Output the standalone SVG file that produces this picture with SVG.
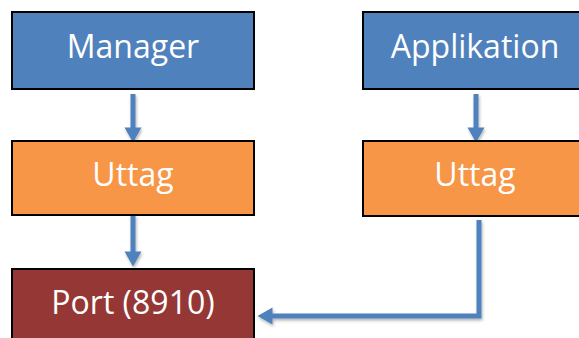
<svg xmlns="http://www.w3.org/2000/svg" width="579" height="338" viewBox="0 0 579 338">
<defs>
<style>
.box{stroke:#000;stroke-width:2}
.blue{fill:#4F81BD}
.orange{fill:#F79646}
.red{fill:#953735}
.lbl{font-family:"Open Sans","Liberation Sans",sans-serif;font-size:32px;fill:#fff;text-anchor:middle}
.con{fill:none;stroke:#4F81BD;stroke-width:5;marker-end:url(#ah);filter:url(#sh)}
</style>
<marker id="ah" markerUnits="userSpaceOnUse" markerWidth="17" markerHeight="17" refX="0.5" refY="8.5" orient="auto" overflow="visible">
<path d="M0,0 L15,8.5 L0,17 Z" fill="#4F81BD"/>
</marker>
<filter id="sh" filterUnits="userSpaceOnUse" x="0" y="0" width="579" height="338">
<feDropShadow dx="1" dy="2" stdDeviation="1.5" flood-color="#000" flood-opacity="0.3"/>
</filter>
</defs>
<g id="connectors">
<path class="con" d="M133,94 V128"/>
<path class="con" d="M476,94 V128"/>
<path class="con" d="M133,215 V252"/>
<path class="con" d="M479,220 V316 H272"/>
</g>
<g id="manager"><rect class="box blue" x="12" y="12" width="242" height="77"/><text class="lbl" x="133" y="58">Manager</text></g>
<g id="applikation"><rect class="box blue" x="363" y="12" width="224" height="77"/><text class="lbl" x="475" y="58">Applikation</text></g>
<g id="uttag1"><rect class="box orange" x="12" y="141" width="242" height="74"/><text class="lbl" x="133" y="186">Uttag</text></g>
<g id="uttag2"><rect class="box orange" x="363" y="141" width="224" height="75"/><text class="lbl" x="475" y="186">Uttag</text></g>
<g id="port"><rect class="box red" x="12" y="269" width="242" height="77"/><text class="lbl" x="133" y="314">Port (8910)</text></g>
</svg>
